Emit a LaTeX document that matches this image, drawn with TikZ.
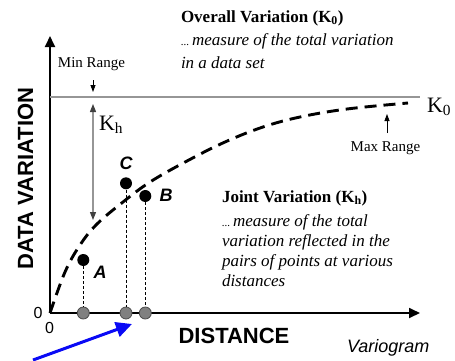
\documentclass[tikz,border=0pt]{standalone}
\usepackage{fontspec}
\setmainfont{Liberation Serif}
\setsansfont{Liberation Sans}
\usetikzlibrary{arrows.meta}
\newcommand\myfs[2]{\fontsize{#1}{#2}\selectfont}
\definecolor{linegray}{RGB}{150,150,150}
\definecolor{dotgray}{RGB}{128,128,128}
\definecolor{arrowblue}{RGB}{10,10,245}
\tikzset{
  axisline/.style={line width=1.8pt, -{Triangle[length=11pt,width=10pt]}},
  sillline/.style={line width=1.1pt, linegray},
  kharrow/.style={line width=1.1pt, linegray, {Triangle[length=8pt,width=6pt,color=black!75]}-{Triangle[length=8pt,width=6pt,color=black!75]}},
  rangearrow/.style={line width=0.8pt, -{Triangle[length=7pt,width=5pt]}},
  curveline/.style={line width=2.9pt, dash pattern=on 12pt off 7pt},
  blackdot/.style={circle, fill=black, minimum size=12pt, inner sep=0pt},
  graydot/.style={circle, fill=dotgray, draw=black!70, line width=0.8pt, minimum size=12pt, inner sep=0pt},
  dropline/.style={line width=0.8pt, dash pattern=on 3pt off 2pt},
  bluearrow/.style={line width=3pt, arrowblue, -{Triangle[length=16pt,width=15pt]}},
  txt/.style={inner sep=0pt, outer sep=0pt},
  serifbold/.style={txt, anchor=base west, font=\bfseries\myfs{17}{20}},
  serifit/.style={txt, anchor=base west, font=\itshape\myfs{17}{20}},
  rangelab/.style={txt, anchor=base, font=\myfs{15}{18}},
  ptlab/.style={txt, font=\sffamily\bfseries\itshape\myfs{18}{20}},
  zerolab/.style={txt, font=\sffamily\myfs{16}{18}},
  axislab/.style={txt, font=\sffamily\bfseries\myfs{22}{24}},
  klab/.style={txt, anchor=base west, font=\myfs{22}{24}},
}
\begin{document}
\begin{tikzpicture}[x=1pt,y=-1pt]
\useasboundingbox (0,0) rectangle (455,360);

% axes
\coordinate (O) at (50,313);
\coordinate (ytop) at (50,36);
\coordinate (xend) at (420,313);
\draw[axisline] (O) -- (ytop);
\draw[axisline] (O) -- (xend);

% sill line
\coordinate (sillL) at (50,97);
\coordinate (sillR) at (420,97);
\draw[sillline] (sillL) -- (sillR);

% curve
\draw[curveline] plot[smooth, tension=0.6] coordinates {(50,313) (65,272) (80,245) (97,224) (123,202) (150,182) (187,161) (225,142) (263,127) (300,117) (347,109) (408,103)};

% Kh arrow
\coordinate (khtop) at (93,104);
\coordinate (khbot) at (93,220);
\draw[kharrow] (khtop) -- (khbot);
\node[klab] (kh) at (99,130) {K\textsubscript{h}};

% Min / Max range
\coordinate (minA) at (93,80);
\coordinate (minB) at (93,92);
\draw[rangearrow] (minA) -- (minB);
\node[rangelab] (minrange) at (91.5,67) {Min Range};
\coordinate (maxA) at (387,133);
\coordinate (maxB) at (387,114);
\draw[rangearrow] (maxA) -- (maxB);
\node[rangelab] (maxrange) at (385.5,151.5) {Max Range};

\node[klab] (k0) at (427,112) {K\textsubscript{0}};

% points
\node[blackdot] (A) at (83.3,260) {};
\node[blackdot] (C) at (126,183.3) {};
\node[blackdot] (B) at (145.3,196) {};
\node[graydot] (Ax) at (83.3,313) {};
\node[graydot] (Cx) at (126,313) {};
\node[graydot] (Bx) at (145.3,313) {};
\draw[dropline] (A) -- (Ax);
\draw[dropline] (C) -- (Cx);
\draw[dropline] (B) -- (Bx);
\node[ptlab] (Alab) at (100,272) {A};
\node[ptlab] (Clab) at (126,163) {C};
\node[ptlab] (Blab) at (166,195) {B};

% zeros
\node[zerolab] (z1) at (38,313) {0};
\node[zerolab] (z2) at (49.5,327.5) {0};

% axis labels
\node[axislab, rotate=90] (ylab) at (25.5,178.5) {DATA VARIATION};
\node[axislab] (xlab) at (234,336) {DISTANCE};
\node[txt, anchor=base west, font=\sffamily\itshape\myfs{18}{20}] (vario) at (347,352) {Variogram};

% text blocks
\node[serifbold] (ovtitle) at (181,22) {Overall Variation (K\textsubscript{0})};
\node[serifit] (ov1) at (181,45) {{\myfs{11}{12}...}\,measure of the total variation};
\node[serifit] (ov2) at (181,68) {in a data set};

\node[serifbold] (jvtitle) at (222,202) {Joint Variation (K\textsubscript{h})};
\node[serifit] (jv1) at (222,226) {{\myfs{11}{12}...}\,measure of the total};
\node[serifit] (jv2) at (222,246) {variation reflected in the};
\node[serifit] (jv3) at (222,266) {pairs of points at various};
\node[serifit] (jv4) at (222,286) {distances};

% blue arrow
\coordinate (bstart) at (33,360);
\coordinate (btip) at (132,324);
\draw[bluearrow] (bstart) -- (btip);
\end{tikzpicture}
\end{document}
